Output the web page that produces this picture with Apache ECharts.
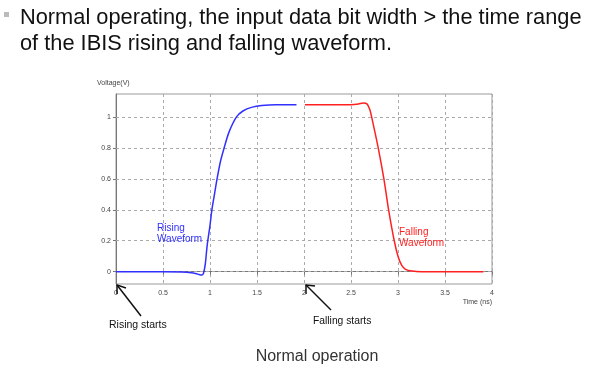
<!DOCTYPE html>
<html><head><meta charset="utf-8">
<script src="https://cdn.jsdelivr.net/npm/echarts@6/dist/echarts.min.js"></script>
<style>html,body{margin:0;padding:0;background:#fff}#c{width:597px;height:374px}</style>
</head><body><div id="c"></div>
<script>
const xTicks = [0, 0.5, 1, 1.5, 2, 2.5, 3, 3.5, 4];
const yTicks = [0, 0.2, 0.4, 0.6, 0.8, 1];
const riseT = [0, 0.5, 0.7, 0.8, 0.87, 0.91, 0.93, 0.95, 0.97, 1.0, 1.02, 1.05, 1.075, 1.11, 1.15, 1.2, 1.28, 1.35, 1.45, 1.55, 1.7, 1.92];
const riseV = [0, 0, -0.002, -0.007, -0.016, -0.022, -0.012, 0.05, 0.17, 0.3, 0.4, 0.51, 0.6, 0.71, 0.8, 0.9, 1.0, 1.04, 1.065, 1.075, 1.08, 1.08];
const fallT = [2.01, 2.3, 2.5, 2.58, 2.63, 2.67, 2.7, 2.72, 2.79, 2.85, 2.9, 2.96, 3.0, 3.04, 3.08, 3.15, 3.25, 3.6, 3.91];
const fallV = [1.08, 1.08, 1.081, 1.086, 1.092, 1.086, 1.05, 1.0, 0.8, 0.6, 0.4, 0.2, 0.1, 0.04, 0.015, 0.004, 0, 0, 0];

const chart = echarts.init(document.getElementById('c'), null, {renderer: 'canvas'});
const small = {fontFamily: 'Liberation Sans', fontSize: 7, color: '#444'};
chart.setOption({
  animation: false,
  backgroundColor: '#fff',
  grid: {left: 116, right: 105, top: 94, bottom: 90, show: true, borderColor: '#999', borderWidth: 1, backgroundColor: '#fff'},
  xAxis: {
    type: 'value', min: 0, max: 4, interval: 0.5,
    axisLine: {lineStyle: {color: '#777', width: 1}},
    axisTick: {show: true, length: 3, lineStyle: {color: '#777'}},
    axisLabel: Object.assign({margin: 6}, small),
    splitLine: {show: true, lineStyle: {color: '#aaa', type: [3, 3], width: 1}}
  },
  yAxis: {
    type: 'value', min: -0.08, max: 1.15,
    axisLine: {show: true, lineStyle: {color: '#777', width: 1}},
    axisTick: {show: true, length: 3, customValues: yTicks, lineStyle: {color: '#777'}},
    axisLabel: Object.assign({margin: 5, customValues: yTicks, formatter: v => String(Math.round(v * 10) / 10)}, small),
    splitLine: {show: false}
  },
  series: [
    {
      type: 'line', data: riseT.map((t, i) => [t, riseV[i]]), showSymbol: false, smooth: 0.25,
      lineStyle: {color: '#3030ff', width: 1.5}, z: 5,
      markLine: {
        silent: true, symbol: 'none', label: {show: false},
        lineStyle: {color: '#aaa', type: [3, 3], width: 1},
        data: yTicks.map(v => ({yAxis: v}))
      }
    },
    {
      type: 'line', data: fallT.map((t, i) => [t, fallV[i]]), showSymbol: false, smooth: 0.25,
      lineStyle: {color: '#ff2020', width: 1.5}, z: 5
    }
  ],
  graphic: [
    {type: 'rect', shape: {x: 4, y: 12, width: 5, height: 5}, style: {fill: '#bbb'}},
    {type: 'text', x: 20, y: 7, style: {text: 'Normal operating, the input data bit width > the time range', font: '21.8px "Liberation Sans"', fill: '#111'}},
    {type: 'text', x: 20, y: 33, style: {text: 'of the IBIS rising and falling waveform.', font: '21.8px "Liberation Sans"', fill: '#111'}},
    {type: 'text', x: 97, y: 80, style: {text: 'Voltage(V)', font: '7px "Liberation Sans"', fill: '#444'}},
    {type: 'text', x: 492, y: 299, style: {text: 'Time (ns)', font: '7px "Liberation Sans"', fill: '#444', align: 'right'}},
    {type: 'text', x: 157, y: 223, z: 10, style: {text: 'Rising\nWaveform', font: '10px "Liberation Sans"', fill: '#3030ff', lineHeight: 11}},
    {type: 'text', x: 399, y: 227, z: 10, style: {text: 'Falling\nWaveform', font: '10px "Liberation Sans"', fill: '#ff2020', lineHeight: 11}},
    {type: 'line', z: 10, shape: {x1: 141, y1: 316, x2: 117, y2: 285}, style: {stroke: '#111', lineWidth: 1.5}},
    {type: 'polyline', z: 10, shape: {points: [[117, 294], [117, 285], [126, 288]]}, style: {stroke: '#111', lineWidth: 1.5, fill: null}},
    {type: 'line', z: 10, shape: {x1: 331, y1: 310, x2: 306, y2: 285}, style: {stroke: '#111', lineWidth: 1.5}},
    {type: 'polyline', z: 10, shape: {points: [[306, 294], [306, 285], [315, 286]]}, style: {stroke: '#111', lineWidth: 1.5, fill: null}},
    {type: 'text', x: 109, y: 320, style: {text: 'Rising starts', font: '10.5px "Liberation Sans"', fill: '#111'}},
    {type: 'text', x: 313, y: 316, style: {text: 'Falling starts', font: '10.3px "Liberation Sans"', fill: '#111'}},
    {type: 'text', x: 317, y: 349, style: {text: 'Normal operation', font: '16px "Liberation Sans"', fill: '#333', align: 'center'}}
  ]
});
</script></body></html>
